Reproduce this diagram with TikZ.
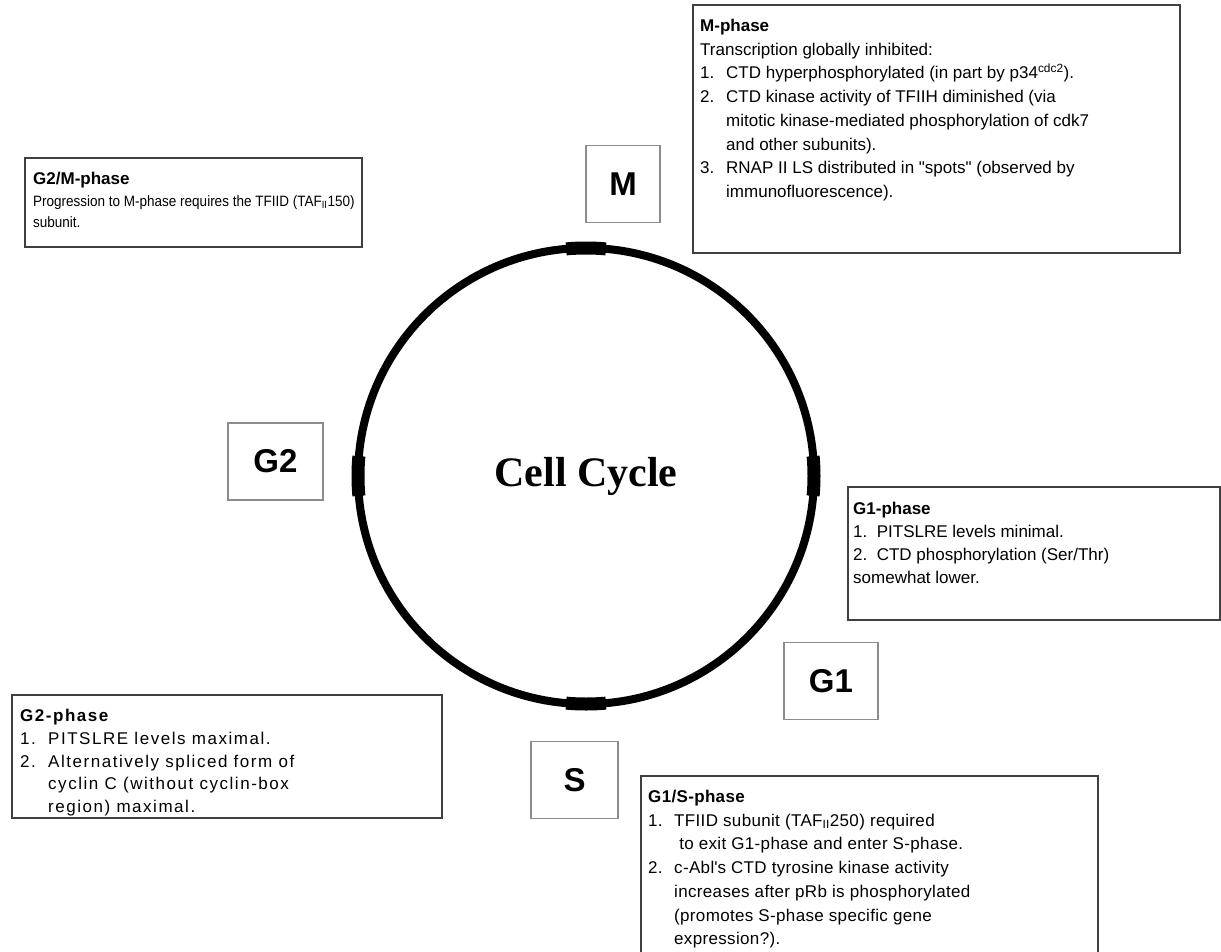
\documentclass[tikz,border=0pt]{standalone}
\usepackage{fontspec}
\setmainfont{Liberation Sans}
\newfontfamily\cyclefont{Liberation Serif}
\newfontfamily\plainfont{Liberation Sans}
\usepackage{tikz}
\newcommand\notefont[1]{\addfontfeatures{LetterSpace=#1}\fontsize{17}{23}\selectfont}
\newcommand\num[1]{\makebox[26pt][l]{#1}}
\newcommand\cont{\hspace*{26pt}}
\newcommand\dq{{\plainfont"}}
\newcommand\sq{{\plainfont'}}

\begin{document}
\begin{tikzpicture}[x=1pt, y=-1pt,
    frame/.style={draw=black!75, line width=1.5pt},
    note/.style={anchor=north west, inner sep=0pt, align=left},
    letter/.style={draw=black!45, line width=1.2pt, inner sep=0pt, minimum width=#1,
      minimum height=77pt, font=\fontsize{33}{33}\selectfont\bfseries}]
  \useasboundingbox (0,0) rectangle (1221,951);

  \node[circle, draw, line width=8pt, minimum size=456pt, inner sep=0pt,
    font=\cyclefont\fontsize{42}{42}\selectfont\bfseries] (ring) at (586,476) {Cell Cycle};
  \foreach \a in {0,90,180,270}
    \draw[line width=13pt] ([shift={(\a-5:228)}]ring.center) arc[start angle=\a-5, end angle=\a+5, radius=228];

  \node[letter=74pt] (M) at (623,184) {M};
  \node[letter=95pt] (G2) at (275.5,461.5) {G2};
  \node[letter=94pt] (G1) at (831,681) {G1};
  \node[letter=87pt] (S) at (574.5,780) {S};

  \draw[frame] (693,5) rectangle (1180,253);
  \node[note, font=\notefont{0}\fontsize{17}{23.7}\selectfont] (Mnote) at (700,19) {\textbf{M-phase}\\
    Transcription globally inhibited:\\
    \num{1.}CTD hyperphosphorylated (in part by p34\textsuperscript{cdc2}).\\
    \num{2.}CTD kinase activity of TFIIH diminished (via\\
    \cont mitotic kinase-mediated phosphorylation of cdk7\\
    \cont and other subunits).\\
    \num{3.}RNAP II LS distributed in \dq spots\dq{} (observed by\\
    \cont immunofluorescence).};

  \draw[frame] (25,158) rectangle (362,247);
  \node[note, font=\notefont{0}\fontsize{17}{21.5}\selectfont] (G2Mnote) at (33,172) {\textbf{G2/M-phase}\\
    {\addfontfeatures{FakeStretch=0.9}\fontsize{15}{21.5}\selectfont
      Progression to M-phase requires the TFIID (TAF\textsubscript{II}150)}\\
    {\addfontfeatures{FakeStretch=0.9}\fontsize{15}{21.5}\selectfont subunit.}};

  \draw[frame] (12,695) rectangle (442,818);
  \node[note, font=\notefont{9}\fontsize{17}{22.8}\selectfont] (G2note) at (20,709) {\textbf{G2-phase}\\
    \makebox[28pt][l]{1.}PITSLRE levels maximal.\\
    \makebox[28pt][l]{2.}Alternatively spliced form of\\
    \hspace*{28pt}cyclin C (without cyclin-box\\
    \hspace*{28pt}region) maximal.};

  \draw[frame] (848,487) rectangle (1220,620);
  \node[note, font=\notefont{0}] (G1note) at (853,502) {\textbf{G1-phase}\\
    1.\ \ PITSLRE levels minimal.\\
    2.\ \ CTD phosphorylation (Ser/Thr)\\
    somewhat lower.};

  \draw[frame] (641,776) rectangle (1098,960);
  \node[note, font=\notefont{2}\fontsize{17}{23.7}\selectfont] (G1Snote) at (648,790) {\textbf{G1/S-phase}\\
    \num{1.}TFIID subunit (TAF\textsubscript{II}250) required\\
    \cont\ to exit G1-phase and enter S-phase.\\
    \num{2.}c-Abl\sq s CTD tyrosine kinase activity\\
    \cont increases after pRb is phosphorylated\\
    \cont (promotes S-phase specific gene\\
    \cont expression?).};
\end{tikzpicture}
\end{document}
